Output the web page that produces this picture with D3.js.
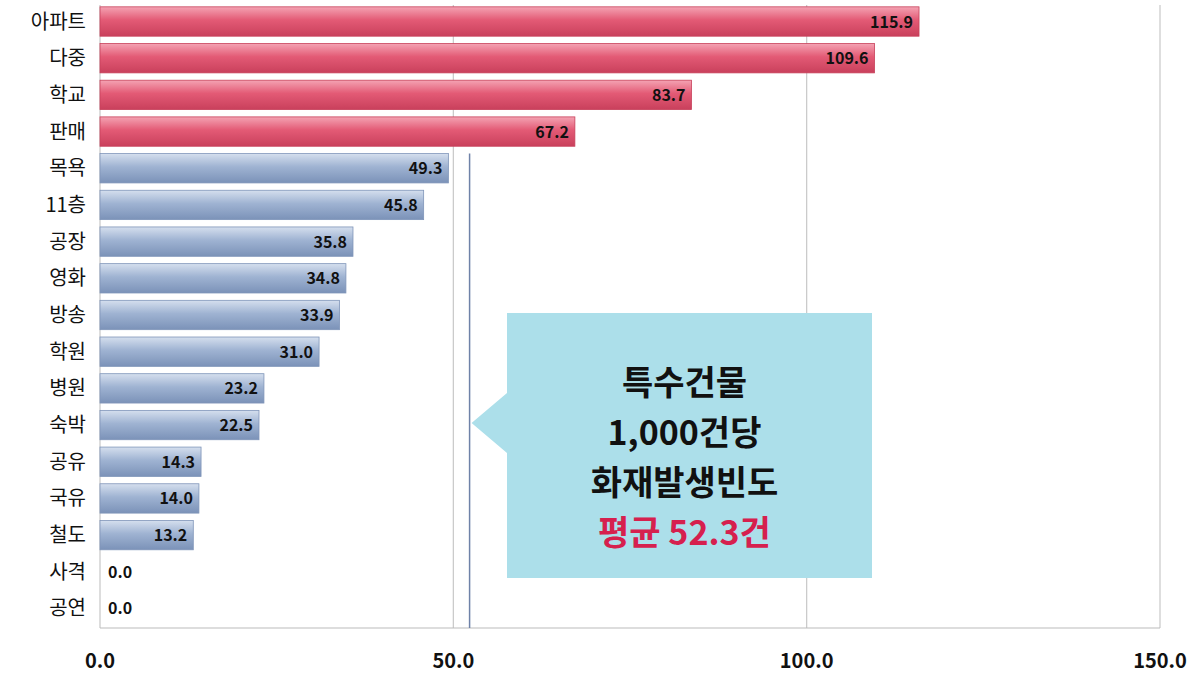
<!DOCTYPE html>
<html><head><meta charset="utf-8">
<script src="https://cdn.jsdelivr.net/npm/d3@7"></script>
<style>body{margin:0;background:#fff}</style>
</head><body>
<script>
// data
var categories = ["아파트","다중","학교","판매","목욕","11층","공장","영화","방송","학원","병원","숙박","공유","국유","철도","사격","공연"];
var values = [115.9,109.6,83.7,67.2,49.3,45.8,35.8,34.8,33.9,31.0,23.2,22.5,14.3,14.0,13.2,0.0,0.0];
var highlight = [true,true,true,true,false,false,false,false,false,false,false,false,false,false,false,false,false];
var ticks = [0,50,100,150];
var average = 52.3;
var calloutLines = ["특수건물","1,000건당","화재발생빈도"];
var calloutAvg = "평균 52.3건";

var w = 1200, h = 675;
var svg = d3.select("body").append("svg").attr("width", w).attr("height", h)
  .style("font-family","'Noto Sans CJK KR', 'Noto Sans', sans-serif");

var x = d3.scaleLinear().domain([0,150]).range([100,1160]);
var y = d3.scaleBand().domain(categories).range([5,625]).paddingInner(0.2).paddingOuter(0.05);

var defs = svg.append("defs");
function grad(id, top, mid, bot){
  var g = defs.append("linearGradient").attr("id",id).attr("x1",0).attr("x2",0).attr("y1",0).attr("y2",1);
  g.append("stop").attr("offset","0%").attr("stop-color",top);
  g.append("stop").attr("offset","45%").attr("stop-color",mid);
  g.append("stop").attr("offset","100%").attr("stop-color",bot);
}
grad("gRed","#f4a3b3","#e35a75","#c9405c");
grad("gBlue","#d5dfee","#9fb3d2","#7b92b8");

// grid
svg.selectAll("line.grid").data(ticks.slice(1)).enter().append("line")
  .attr("x1",d=>x(d)).attr("x2",d=>x(d)).attr("y1",5).attr("y2",628)
  .attr("stroke","#c8c8c8").attr("stroke-width",1.2);

// axis
svg.append("line").attr("x1",x(0)).attr("x2",x(150)).attr("y1",628).attr("y2",628).attr("stroke","#bbb");
svg.append("line").attr("x1",x(0)).attr("x2",x(0)).attr("y1",5).attr("y2",628).attr("stroke","#bbb");
svg.selectAll("text.tick").data(ticks).enter().append("text")
  .attr("x",d=>x(d)).attr("y",668).attr("text-anchor","middle")
  .attr("font-size",20).attr("font-weight","bold").attr("fill","#111")
  .text(d=>d.toFixed(1));

// bars
svg.selectAll("rect.bar").data(values).enter().append("rect")
  .attr("x",x(0)).attr("y",(d,i)=>y(categories[i]))
  .attr("width",d=>x(d)-x(0)).attr("height",y.bandwidth())
  .attr("fill",(d,i)=>highlight[i]?"url(#gRed)":"url(#gBlue)")
  .attr("stroke",(d,i)=>highlight[i]?"#c8405a":"#7f95b9").attr("stroke-width",0.8);

svg.selectAll("text.val").data(values).enter().append("text")
  .attr("x",d=>d>0?x(d)-6:x(0)+8)
  .attr("y",(d,i)=>y(categories[i])+y.bandwidth()/2+6)
  .attr("text-anchor",d=>d>0?"end":"start")
  .attr("font-size",16).attr("font-weight","bold").attr("fill","#111")
  .text(d=>d.toFixed(1));

svg.selectAll("text.cat").data(categories).enter().append("text")
  .attr("x",86).attr("y",d=>y(d)+y.bandwidth()/2+7)
  .attr("text-anchor","end").attr("font-size",20).attr("fill","#111")
  .text(d=>d);

// average line
svg.append("line").attr("x1",x(average)).attr("x2",x(average)).attr("y1",y(categories[4])).attr("y2",628)
  .attr("stroke","#6f82a8").attr("stroke-width",1.5);

// callout
var bx = 507, by = 313, bw = 365, bh = 265;
svg.append("path")
  .attr("d",`M${bx},${by} H${bx+bw} V${by+bh} H${bx} V${by+140} L${x(average)+2},${by+110} L${bx},${by+80} Z`)
  .attr("fill","#acdfea");
var tx = bx + bw/2 - 5;
calloutLines.forEach(function(t,i){
  svg.append("text").attr("x",tx).attr("y",395+i*50).attr("text-anchor","middle")
    .attr("font-size",34).attr("font-weight","bold").attr("fill","#111").text(t);
});
svg.append("text").attr("x",tx).attr("y",545).attr("text-anchor","middle")
  .attr("font-size",34).attr("font-weight","bold").attr("fill","#d6204e").text(calloutAvg);
</script>
</body></html>
